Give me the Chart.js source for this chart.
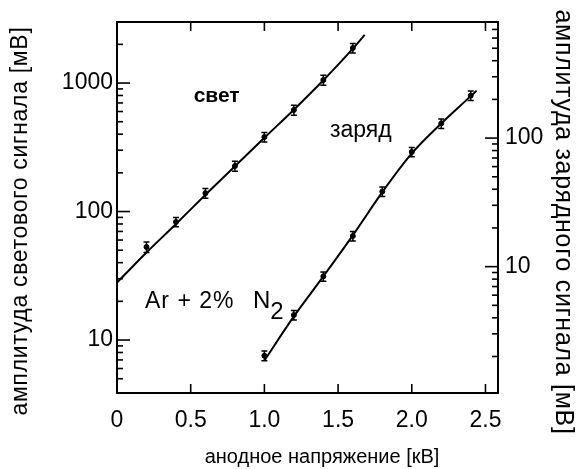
<!DOCTYPE html>
<html><head><meta charset="utf-8">
<script src="https://cdn.jsdelivr.net/npm/chart.js@4.4.1/dist/chart.umd.min.js"></script>
<style>html,body{margin:0;padding:0;background:#fff}#wrap{width:582px;height:469px}</style>
</head><body><div id="wrap"><canvas id="c" width="582" height="469"></canvas></div>
<script>
// ---- data ----
const voltageLight = [0.2, 0.4, 0.6, 0.8, 1.0, 1.2, 1.4, 1.6];
const lightSignal = [53, 83, 139, 226, 380, 617, 1055, 1872];
const lightErr = [5, 7, 12, 20, 33, 55, 95, 160];
const lightFitVoltage = [0, 0.2, 0.4, 0.6, 0.8, 1.0, 1.2, 1.4, 1.6, 1.68];
const lightFitSignal = [28, 48, 80, 135, 225, 375, 620, 1050, 1850, 2370];

const voltageCharge = [1.0, 1.2, 1.4, 1.6, 1.8, 2.0, 2.2, 2.4];
const chargeSignal = [2.03, 4.2, 8.4, 17.3, 38.4, 78, 130, 214];
const chargeErr = [0.18, 0.35, 0.7, 1.5, 3.3, 6.5, 11, 18];
const chargeFitVoltage = [1.0, 1.2, 1.4, 1.6, 1.8, 2.0, 2.2, 2.4, 2.44];
const chargeFitSignal = [1.86, 4.1, 8.4, 17.5, 38, 76, 130, 212, 234];

const xTickValues = [0, 0.5, 1.0, 1.5, 2.0, 2.5];
const xTickLabels = ['0', '0.5', '1.0', '1.5', '2.0', '2.5'];
const leftTickLabels = { 10: '10', 100: '100', 1000: '1000' };
const rightTickLabels = { 10: '10', 100: '100' };

const xTitle = 'анодное напряжение [кВ]';
const leftTitle = 'амплитуда светового сигнала [мВ]';
const rightTitle = 'амплитуда зарядного сигнала [мВ]';
const labelLight = 'свет';
const labelCharge = 'заряд';
const labelGas = 'Ar + 2%';
const labelGasN = 'N';
const labelGasSub = '2';

const pts = (xs, ys) => xs.map((v, i) => ({ x: v, y: ys[i] }));
const NARROW = '"Liberation Sans Narrow", "Liberation Sans", Arial, sans-serif';
const SANS = '"Liberation Sans", Arial, sans-serif';

function isNice(v) {
  const e = Math.floor(Math.log10(v) + 1e-9);
  const s = v / Math.pow(10, e);
  return Math.abs(s - Math.round(s)) < 1e-6;
}
function isDecade(v) {
  const l = Math.log10(v);
  return Math.abs(l - Math.round(l)) < 1e-6;
}

const decor = {
  id: 'decor',
  afterDatasetsDraw(chart) {
    const { ctx } = chart;
    const x = chart.scales.x;
    ctx.save();
    ctx.strokeStyle = '#000';
    ctx.lineWidth = 1.5;
    const bars = (xs, ys, es, sc) => {
      xs.forEach((v, i) => {
        const px = x.getPixelForValue(v);
        const y1 = sc.getPixelForValue(ys[i] + es[i]);
        const y2 = sc.getPixelForValue(ys[i] - es[i]);
        ctx.beginPath();
        ctx.moveTo(px, y1); ctx.lineTo(px, y2);
        ctx.moveTo(px - 3, y1); ctx.lineTo(px + 3, y1);
        ctx.moveTo(px - 3, y2); ctx.lineTo(px + 3, y2);
        ctx.stroke();
      });
    };
    bars(voltageLight, lightSignal, lightErr, chart.scales.y);
    bars(voltageCharge, chargeSignal, chargeErr, chart.scales.y2);
    ctx.restore();
  },
  afterDraw(chart) {
    const { ctx, chartArea: a } = chart;
    const { x, y, y2 } = chart.scales;
    ctx.save();
    ctx.strokeStyle = '#000';
    ctx.fillStyle = '#000';
    ctx.lineWidth = 2;
    ctx.strokeRect(a.left, a.top, a.right - a.left, a.bottom - a.top);
    ctx.lineWidth = 1.6;
    const seg = (x1, y1, x2, y2_) => { ctx.beginPath(); ctx.moveTo(x1, y1); ctx.lineTo(x2, y2_); ctx.stroke(); };
    x.ticks.forEach(t => {
      if (t.value <= 0 || t.value >= x.max) return;
      const px = x.getPixelForValue(t.value);
      seg(px, a.bottom, px, a.bottom - 9);
      seg(px, a.top, px, a.top + 9);
    });
    y.ticks.forEach(t => {
      if (!isNice(t.value)) return;
      const py = y.getPixelForValue(t.value);
      if (py < a.top + 1 || py > a.bottom - 1) return;
      seg(a.left, py, a.left + (isDecade(t.value) ? 13 : 6), py);
    });
    y2.ticks.forEach(t => {
      if (!isNice(t.value)) return;
      const py = y2.getPixelForValue(t.value);
      if (py < a.top + 1 || py > a.bottom - 1) return;
      seg(a.right, py, a.right - (isDecade(t.value) ? 13 : 6), py);
    });

    // annotations at data coordinates
    ctx.textBaseline = 'alphabetic';
    ctx.textAlign = 'left';
    ctx.font = 'bold 21px ' + SANS;
    ctx.fillText(labelLight, x.getPixelForValue(0.52), y.getPixelForValue(711));
    ctx.font = '23px ' + SANS;
    ctx.fillText(labelCharge, x.getPixelForValue(1.445), y.getPixelForValue(380));
    ctx.font = '23px ' + SANS;
    const gy = y.getPixelForValue(17.7);
    ctx.letterSpacing = '1px';
    ctx.fillText(labelGas, x.getPixelForValue(0.19), gy);
    ctx.letterSpacing = '0px';
    ctx.font = '24px ' + SANS;
    const nx = x.getPixelForValue(0.923);
    ctx.fillText(labelGasN, nx, gy);
    const w = ctx.measureText(labelGasN).width;
    ctx.fillText(labelGasSub, nx + w, gy + 11);

    // axis titles
    ctx.textAlign = 'center';
    ctx.textBaseline = 'middle';
    ctx.font = '20px ' + SANS;
    ctx.fillText(xTitle, 322, 457);
    ctx.save();
    ctx.font = '23px ' + SANS;
    ctx.letterSpacing = '0.7px';
    ctx.translate(21, 221);
    ctx.rotate(-Math.PI / 2);
    ctx.fillText(leftTitle, 0, 0);
    ctx.restore();
    ctx.save();
    ctx.font = '25px ' + SANS;
    ctx.letterSpacing = '0.7px';
    ctx.translate(563, 222);
    ctx.rotate(Math.PI / 2);
    ctx.fillText(rightTitle, 0, 0);
    ctx.restore();
    ctx.restore();
  }
};

new Chart(document.getElementById('c'), {
  type: 'scatter',
  data: {
    datasets: [
      { type: 'line', data: pts(lightFitVoltage, lightFitSignal), yAxisID: 'y', borderColor: '#000', borderWidth: 2, pointRadius: 0, cubicInterpolationMode: 'monotone', fill: false },
      { type: 'line', data: pts(chargeFitVoltage, chargeFitSignal), yAxisID: 'y2', borderColor: '#000', borderWidth: 2, pointRadius: 0, cubicInterpolationMode: 'monotone', fill: false },
      { data: pts(voltageLight, lightSignal), yAxisID: 'y', backgroundColor: '#000', borderColor: '#000', pointRadius: 2.5 },
      { data: pts(voltageCharge, chargeSignal), yAxisID: 'y2', backgroundColor: '#000', borderColor: '#000', pointRadius: 2.5 }
    ]
  },
  options: {
    responsive: false,
    animation: false,
    devicePixelRatio: 1,
    layout: { padding: { top: 22, left: 0, right: 0, bottom: 0 } },
    plugins: { legend: { display: false }, tooltip: { enabled: false } },
    scales: {
      x: {
        type: 'linear', position: 'bottom', min: 0, max: 2.585,
        afterBuildTicks: s => { s.ticks = xTickValues.map(v => ({ value: v })); },
        afterFit: s => { s.height = 76; },
        grid: { display: true, drawOnChartArea: false, drawTicks: false },
        border: { display: false },
        ticks: { autoSkip: false, maxRotation: 0, color: '#000', padding: 14, font: { family: NARROW, size: 23 },
          callback: (v, i) => xTickLabels[i] }
      },
      y: {
        type: 'logarithmic', position: 'left', min: 3.87, max: 2985,
        afterFit: s => { s.width = 117; },
        grid: { display: true, drawOnChartArea: false, drawTicks: false },
        border: { display: false },
        ticks: { autoSkip: false, color: '#000', padding: 4, font: { family: SANS, size: 23 },
          callback: v => leftTickLabels[Math.round(v)] && isDecade(v) ? leftTickLabels[Math.round(v)] : '' }
      },
      y2: {
        type: 'logarithmic', position: 'right', min: 1.04, max: 800,
        afterFit: s => { s.width = 84; },
        grid: { display: true, drawOnChartArea: false, drawTicks: false },
        border: { display: false },
        ticks: { autoSkip: false, color: '#000', padding: 7, font: { family: NARROW, size: 23 },
          callback: v => rightTickLabels[Math.round(v)] && isDecade(v) ? rightTickLabels[Math.round(v)] : '' }
      }
    }
  },
  plugins: [decor]
});
</script></body></html>
